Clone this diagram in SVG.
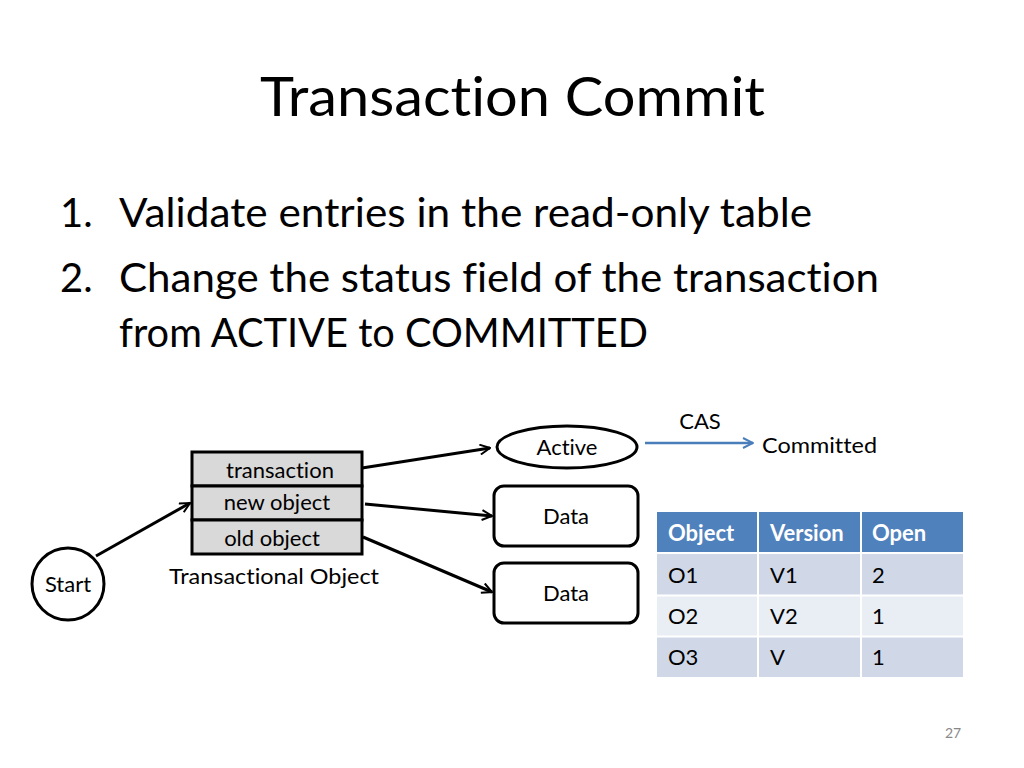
<svg xmlns="http://www.w3.org/2000/svg" width="1024" height="768" viewBox="0 0 1024 768">
<style>
text{font-family:Lato,"Open Sans","Liberation Sans",sans-serif;fill:#000;font-variant-ligatures:none}
.n{fill:none;stroke:#000;stroke-width:3}
.g{fill:#d9d9d9;stroke:#000;stroke-width:3}
.c{stroke:#000;stroke-width:3;fill:none;marker-end:url(#a)}
.t{font-size:22px}
.h{font-size:22px;font-weight:bold;fill:#fff}
</style>
<defs>
<marker id="a" viewBox="0 0 12 12" refX="11" refY="6" markerWidth="12" markerHeight="12" markerUnits="userSpaceOnUse" orient="auto"><path d="M1,1 L11,6 L1,11" fill="none" stroke="#000" stroke-width="2"/></marker>
<marker id="b" viewBox="0 0 12 12" refX="11" refY="6" markerWidth="12" markerHeight="12" markerUnits="userSpaceOnUse" orient="auto"><path d="M1,1 L11,6 L1,11" fill="none" stroke="#4a7ebb" stroke-width="2"/></marker>
</defs>
<rect width="1024" height="768" fill="#fff"/>
<text x="260" y="116" font-size="54" textLength="505" lengthAdjust="spacingAndGlyphs">Transaction Commit</text>
<g font-size="40">
<text x="60" y="227">1.</text><text x="119" y="227" textLength="693" lengthAdjust="spacingAndGlyphs">Validate entries in the read-only table</text>
<text x="60" y="292">2.</text><text x="119" y="292" textLength="760" lengthAdjust="spacingAndGlyphs">Change the status field of the transaction</text>
<text x="119" y="347" textLength="529" lengthAdjust="spacingAndGlyphs">from ACTIVE to COMMITTED</text>
</g>
<g id="start"><circle cx="68" cy="584" r="36" class="n"/><text x="68" y="592" class="t" text-anchor="middle">Start</text></g>
<g id="tobj">
<rect x="192" y="452" width="170" height="34" class="g"/><rect x="192" y="486" width="170" height="34" class="g"/><rect x="192" y="520" width="170" height="34" class="g"/>
<text x="280" y="478" class="t" text-anchor="middle">transaction</text>
<text x="277" y="510" class="t" text-anchor="middle">new object</text>
<text x="272" y="546" class="t" text-anchor="middle">old object</text>
<text x="274" y="584" class="t" text-anchor="middle" textLength="210" lengthAdjust="spacingAndGlyphs">Transactional Object</text>
</g>
<g id="active"><ellipse cx="567" cy="447" rx="70" ry="21" class="n"/><text x="567" y="455" class="t" text-anchor="middle">Active</text></g>
<g id="data1"><rect x="494" y="486" width="144" height="60" rx="10" class="n"/><text x="566" y="524" class="t" text-anchor="middle">Data</text></g>
<g id="data2"><rect x="494" y="563" width="144" height="60" rx="10" class="n"/><text x="566" y="601" class="t" text-anchor="middle">Data</text></g>
<g id="committed"><text x="762" y="453" class="t" textLength="115" lengthAdjust="spacingAndGlyphs">Committed</text><text x="700" y="429" class="t" text-anchor="middle">CAS</text></g>
<g id="connectors">
<path d="M96,556 L190,503" class="c"/>
<path d="M362,468 L490,448" class="c"/>
<path d="M365,504 L492,516" class="c"/>
<path d="M363,537 L492,592" class="c"/>
<path d="M645,443 L753,443" stroke="#4a7ebb" stroke-width="2.5" fill="none" marker-end="url(#b)"/>
</g>
<g id="table">
<rect x="657" y="512" width="306" height="40" fill="#4f81bd"/>
<rect x="657" y="554" width="306" height="41" fill="#d0d8e8"/>
<rect x="657" y="596" width="306" height="40" fill="#e9edf4"/>
<rect x="657" y="637" width="306" height="40" fill="#d0d8e8"/>
<path d="M758,512V677M861,512V677M657,553H963M657,595.5H963M657,636.5H963" stroke="#fff" stroke-width="2"/>
<text x="668" y="541" class="h">Object</text><text x="770" y="541" class="h">Version</text><text x="872" y="541" class="h">Open</text>
<text x="668" y="583" class="t">O1</text><text x="770" y="583" class="t">V1</text><text x="872" y="583" class="t">2</text>
<text x="668" y="624" class="t">O2</text><text x="770" y="624" class="t">V2</text><text x="872" y="624" class="t">1</text>
<text x="668" y="665" class="t">O3</text><text x="770" y="665" class="t">V</text><text x="872" y="665" class="t">1</text>
</g>
<text x="953" y="738" font-size="14" style="fill:#888" text-anchor="middle">27</text>
</svg>
